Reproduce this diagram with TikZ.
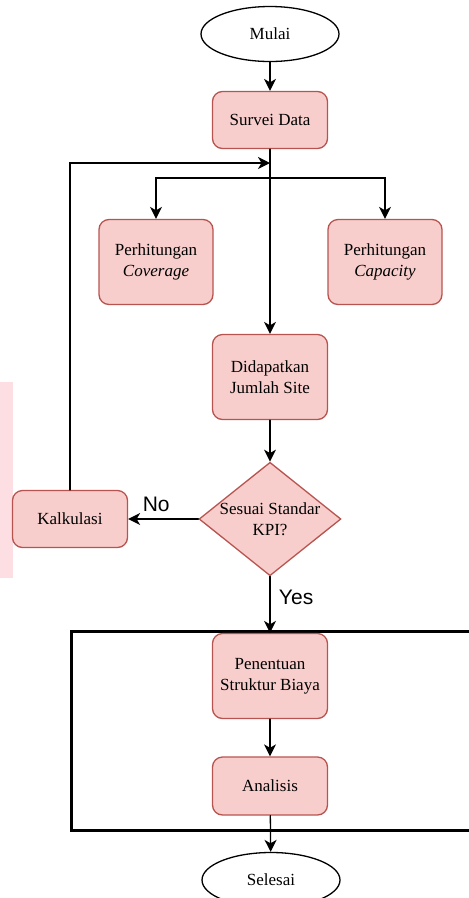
\documentclass[tikz,border=0pt]{standalone}
\usepackage{fontspec}
\setmainfont{Liberation Serif}
\newfontfamily\labelfont{Liberation Sans}
\usetikzlibrary{shapes.geometric,arrows.meta}
\definecolor{kotakisi}{HTML}{F8CECC}
\definecolor{kotakrand}{HTML}{B85450}
\definecolor{tandapink}{HTML}{FDDFE3}

\begin{document}
\begin{tikzpicture}[x=1pt, y=-1pt, line cap=round, font=\fontsize{17}{21}\selectfont]
  \tikzset{proses/.style={draw=kotakrand, fill=kotakisi, line width=1.3pt, rounded corners=10pt, minimum width=115pt, align=center, inner sep=0pt},
    terminal/.style={ellipse, draw, line width=1.3pt, minimum width=138pt, minimum height=55pt, inner sep=0pt},
    keputusan/.style={diamond, draw=kotakrand, fill=kotakisi, line width=1.3pt, aspect=1.25, inner sep=0pt, align=center},
    panah/.style={-{Stealth[length=12pt,width=12pt,inset=3.5pt]}, line width=1.3pt},
    ket/.style={font=\labelfont\fontsize{21}{24}\selectfont}}
  \useasboundingbox (0,0) rectangle (469,898);
  % tanda di kiri
  \fill[tandapink] (0,382) rectangle (13,578);
  % kotak besar
  \draw[line width=3pt] (71,631) rectangle (480,830);
  % node
  \node[terminal] (mulai) at (270,34) {Mulai};
  \node[proses, minimum height=57pt] (survei) at (270,120) {Survei Data};
  \node[proses, minimum width=114pt, minimum height=85pt] (coverage) at (156,262) {Perhitungan\\\textit{Coverage}};
  \node[proses, minimum width=114pt, minimum height=85pt] (capacity) at (385,262) {Perhitungan\\\textit{Capacity}};
  \node[proses, minimum height=85pt] (didapat) at (270,377) {Didapatkan\\Jumlah Site};
  \node[keputusan] (cek) at (270,519) {Sesuai Standar\\KPI?};
  \node[proses, minimum height=57pt] (kalkulasi) at (70,519) {Kalkulasi};
  \node[proses, minimum height=85pt] (penentuan) at (270,676) {Penentuan\\Struktur Biaya};
  \node[proses, minimum height=58pt] (analisis) at (270,786) {Analisis};
  \node[terminal] (selesai) at (271,880) {Selesai};
  % titik bantu
  \coordinate (masuk) at (270,163);
  \coordinate (cabang) at (270,178);
  % panah
  \draw[panah] (mulai) -- (survei);
  \draw[panah] (survei) -- (didapat);
  \draw[panah] (cabang) -| (coverage.north);
  \draw[panah] (cabang) -| (capacity.north);
  \draw[panah] (kalkulasi.north) |- (masuk);
  \draw[panah] (didapat) -- (cek);
  \draw[panah] (cek) -- node[ket, pos=0.6, above=3pt] {No} (kalkulasi);
  \draw[panah] (cek) -- node[ket, pos=0.37, right=5pt] {Yes} (penentuan);
  \draw[panah] (penentuan) -- (analisis);
  \draw[panah] (analisis) -- (selesai);
\end{tikzpicture}
\end{document}
